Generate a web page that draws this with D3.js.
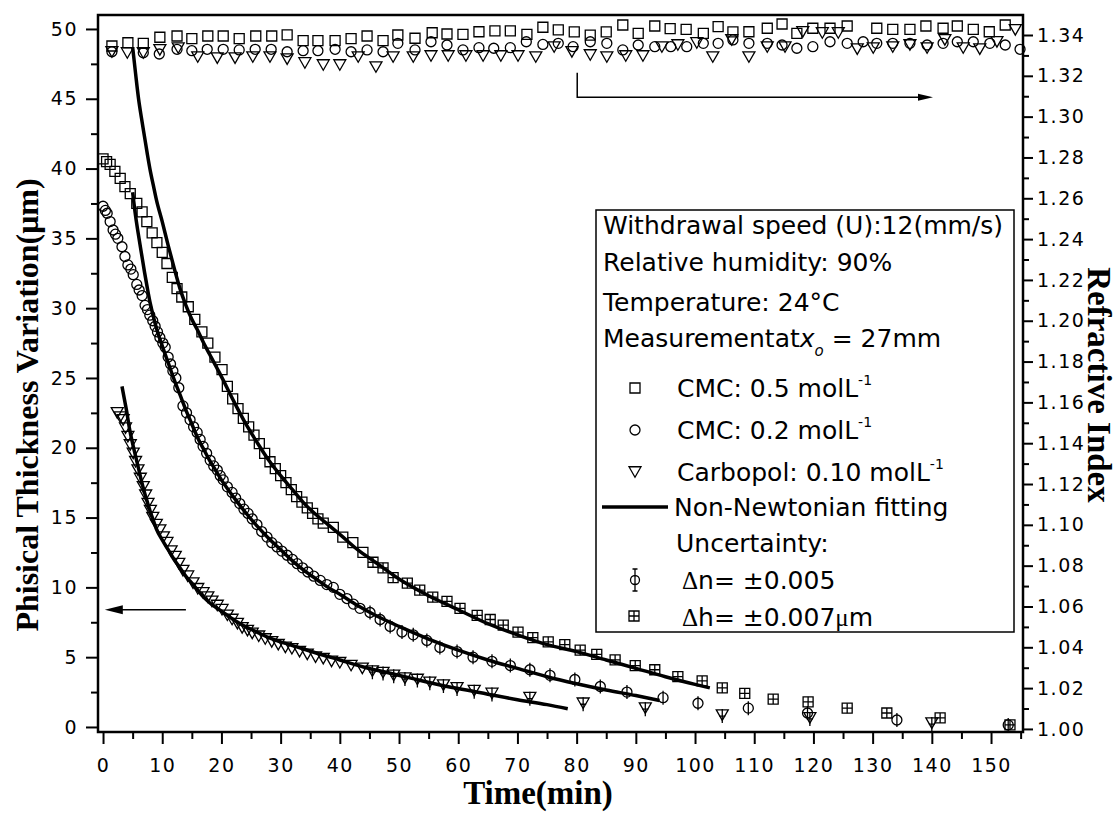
<!DOCTYPE html>
<html lang="en">
<head>
<meta charset="utf-8">
<title>Thickness and refractive index</title>
<script src="https://cdn.jsdelivr.net/npm/d3@7"></script>
<style>
  body { margin: 0; background: #fff; }
  svg { display: block; }
  .tick text { font-family: "DejaVu Sans", sans-serif; font-size: 19px; letter-spacing: 1.5px; fill: #000; }
  .tick line { stroke: #000; stroke-width: 2px; }
  .mark { fill: none; stroke: #000; stroke-width: 1.3px; }
  .fit { fill: none; stroke: #000; stroke-width: 3.5px; stroke-linejoin: round; }
  .legend text { font-family: "DejaVu Sans", sans-serif; font-size: 25px; fill: #000; }
  .title { font-family: "Liberation Serif", "Times New Roman", serif; font-weight: bold; fill: #000; }
</style>
</head>
<body>
<svg id="chart" width="1119" height="813"></svg>
<script>
// ---- thickness (left axis), [time min, thickness um]
var cmc05Thickness = [[0,40.7],[0.6,40.5],[1.2,40.3],[2.0,39.8],[2.9,39.3],[3.7,38.7],[4.6,38.2],[5.7,37.5],[6.6,36.9],[7.4,36.2],
  [8.3,35.4],[9.1,34.7],[10.0,34.0],[10.8,33.2],[11.7,32.2],[12.5,31.4],[13.3,30.8],[14.4,30.1],[15.5,29.2],[16.7,28.3],
  [17.7,27.5],[18.9,26.5],[20.1,25.6],[21.0,24.4],[21.9,23.5],[22.8,22.8],[23.7,22.1],[24.6,21.5],[25.5,20.9],[26.4,20.3],
  [27.3,19.6],[28.2,19.0],[29.1,18.5],[30.0,18.0],[30.9,17.5],[31.8,17.0],[32.7,16.5],[33.6,16.1],[34.5,15.7],[35.4,15.3],
  [36.3,14.9],[37.2,14.6],[38.9,14.3],[40.5,13.6],[42.2,13.2],[43.9,12.5],[45.6,11.8],[47.3,11.4],[49.0,10.7],[51.4,10.3],
  [53.5,9.8],[55.7,9.3],[58.1,9.0],[60.3,8.5],[63.2,8.0],[65.4,7.7],[67.6,7.3],[70.1,6.8],[72.6,6.4],[75.2,6.1],
  [78.0,5.9],[80.6,5.5],[83.4,5.2],[86.5,4.8],[89.9,4.4],[93.2,4.1],[97.1,3.6],[101.2,3.3],[104.6,2.8],[108.4,2.4],
  [113.2,2.0],[119.1,1.8],[125.7,1.35],[132.4,1.0],[141.4,0.65],[153.2,0.15]];

var cmc02Thickness = [[0,37.3],[0.4,37.0],[0.7,36.8],[1.2,36.2],[1.7,35.6],[2.1,35.3],[2.5,35.0],[3.2,34.4],[3.7,33.7],[4.2,33.1],
  [4.7,32.8],[5.1,32.4],[5.7,31.7],[6.1,31.3],[6.6,30.9],[7.1,30.2],[7.5,29.9],[7.9,29.5],[8.4,29.1],[8.8,28.7],
  [9.2,28.3],[9.6,27.9],[10.1,27.5],[10.5,27.2],[11.0,26.5],[11.4,26.0],[11.8,25.5],[12.3,25.0],[12.8,24.3],[13.5,23.0],
  [14.1,22.5],[14.7,22.0],[15.3,21.5],[15.9,21.1],[16.4,20.6],[16.9,20.1],[17.5,19.6],[18.1,19.1],[18.7,18.7],[19.3,18.4],
  [19.8,18.0],[20.3,17.7],[21.0,17.2],[21.8,16.8],[22.4,16.4],[23.1,16.0],[23.8,15.6],[24.5,15.3],[25.2,14.9],[26.0,14.5],
  [26.8,14.0],[27.7,13.6],[28.5,13.2],[29.4,12.9],[30.2,12.6],[31.1,12.3],[32.0,12.0],[32.8,11.7],[33.7,11.4],[34.6,11.1],
  [35.6,10.8],[36.7,10.5],[37.8,10.2],[38.9,10.0],[40.0,9.5],[41.2,9.2],[42.3,8.8],[43.4,8.5],[45.1,8.2],[46.8,7.7],
  [48.5,7.2],[50.5,6.8],[52.4,6.6],[54.7,6.2],[56.9,5.7],[59.8,5.4],[62.5,5.0],[65.7,4.7],[68.8,4.4],[72.1,4.1],
  [75.5,3.7],[79.7,3.4],[84.0,2.9],[88.5,2.5],[94.6,2.1],[100.5,1.7],[109.0,1.35],[119.0,1.0],[134.1,0.5],[152.9,0.15]];

var carbopolThickness = [[2.4,22.5],[2.9,22.2],[3.4,22.0],[3.8,21.4],[4.2,20.8],[4.6,20.2],[5.1,19.6],[5.5,19.0],[5.9,18.4],[6.3,17.8],
  [6.8,17.2],[7.2,16.6],[7.6,16.0],[8.0,15.5],[8.4,15.0],[9.0,14.5],[9.6,14.1],[10.2,13.6],[10.8,13.2],[11.5,12.6],
  [12.2,12.2],[12.8,11.7],[13.5,11.2],[14.3,10.8],[15.2,10.3],[16.0,9.9],[16.9,9.6],[17.7,9.3],[18.4,9.0],[19.3,8.7],
  [20.1,8.4],[21.0,8.0],[21.8,7.7],[22.7,7.4],[23.5,7.1],[24.4,6.9],[25.2,6.7],[26.3,6.5],[27.4,6.3],[28.5,6.1],
  [29.6,5.9],[30.8,5.7],[31.9,5.6],[33.2,5.4],[34.5,5.2],[35.9,5.0],[37.2,4.9],[38.6,4.7],[40.0,4.6],[41.9,4.4],
  [43.8,4.2],[45.5,4.0],[47.3,3.9],[49.1,3.7],[51.0,3.5],[53.1,3.4],[55.2,3.2],[57.5,3.0],[59.8,2.8],[62.7,2.6],
  [65.7,2.4],[72.1,2.1],[81.1,1.7],[91.6,1.35],[104.6,0.85],[119.4,0.65],[140.0,0.28]];

// ---- non-newtonian fits (left axis)
var cmc05Fit = [[5.0,48.7],[5.5,46.8],[6.0,45.0],[6.5,43.6],[7.0,42.3],[7.5,41.0],[8.0,39.8],[8.5,38.8],[9.0,37.8],[10.0,36.2],
  [11.0,34.5],[12.0,32.9],[13.0,31.4],[14.0,30.2],[15.0,29.2],[16.0,28.4],[17.0,27.5],[18.0,26.7],[19.0,25.9],[20.0,25.1],
  [22.0,23.4],[24.0,21.8],[26.0,20.4],[28.0,19.1],[30.0,18.0],[32.0,17.0],[34.0,16.0],[36.0,15.2],[38.0,14.5],[40.0,13.8],
  [43.0,12.7],[46.0,11.8],[50.0,10.6],[55.0,9.4],[60.0,8.4],[65.0,7.4],[70.0,6.6],[75.0,5.9],[80.0,5.4],[85.0,4.8],
  [90.0,4.2],[95.0,3.6],[100.0,3.05],[102.5,2.8]];
var cmc02Fit = [[5.0,38.3],[5.5,36.6],[6.0,35.2],[6.5,33.9],[7.0,32.6],[7.5,31.4],[8.0,30.3],[8.5,29.4],[9.0,28.6],[10.0,27.3],
  [11.0,26.1],[12.0,24.9],[13.0,23.8],[14.0,22.7],[15.0,21.7],[16.0,20.7],[17.0,19.9],[18.0,19.1],[19.0,18.4],[20.0,17.7],
  [22.0,16.5],[24.0,15.4],[26.0,14.4],[28.0,13.5],[30.0,12.7],[32.0,11.9],[34.0,11.2],[36.0,10.6],[38.0,10.0],[40.0,9.5],
  [43.0,8.7],[46.0,8.0],[50.0,7.2],[55.0,6.3],[60.0,5.5],[65.0,4.8],[70.0,4.2],[75.0,3.6],[80.0,3.1],[85.0,2.65],
  [90.0,2.25],[94.0,1.9]];
var carbopolFit = [[3.2,24.4],[3.6,23.5],[4.0,22.6],[4.5,21.3],[5.0,20.3],[5.5,19.4],[6.0,18.5],[6.5,17.6],[7.0,16.8],[7.5,16.1],
  [8.0,15.4],[8.5,14.8],[9.0,14.2],[10.0,13.4],[11.0,12.7],[12.0,12.0],[13.0,11.4],[14.0,10.8],[15.0,10.3],[16.0,9.8],
  [17.0,9.3],[18.0,8.9],[20.0,8.3],[22.0,7.7],[24.0,7.2],[26.0,6.8],[28.0,6.4],[30.0,6.1],[33.0,5.7],[36.0,5.3],
  [40.0,4.8],[44.0,4.3],[48.0,3.9],[52.0,3.5],[56.0,3.1],[60.0,2.75],[65.0,2.35],[70.0,1.95],[75.0,1.6],[78.5,1.3]];

// ---- refractive index (right axis), [time min, n]
var cmc05Index = [[1.5,1.3346],[4.2,1.3362],[6.8,1.3359],[9.6,1.3389],[12.5,1.3395],[15.0,1.3382],[17.7,1.3395],[20.3,1.3395],
  [23.0,1.3382],[25.8,1.3395],[28.5,1.3395],[31.1,1.3401],[33.8,1.3372],[36.3,1.3372],[39.2,1.3372],[41.9,1.3382],
  [44.6,1.3395],[47.3,1.3372],[49.8,1.3400],[52.7,1.3384],[55.6,1.3411],[58.1,1.3405],[60.8,1.3403],[63.5,1.3416],
  [66.2,1.3420],[68.8,1.3420],[71.6,1.3403],[74.3,1.3438],[76.9,1.3425],[79.6,1.3415],[82.3,1.3399],[85.0,1.3415],
  [87.8,1.3449],[90.4,1.3408],[93.2,1.3444],[95.8,1.3431],[98.5,1.3428],[101.4,1.3408],[103.9,1.3441],[106.4,1.3415],
  [109.1,1.3416],[112.2,1.3433],[114.7,1.3454],[117.2,1.3408],[119.9,1.3433],[122.8,1.3433],[125.7,1.3444],[130.7,1.3433],
  [133.4,1.3428],[136.3,1.3428],[139.0,1.3444],[141.9,1.3433],[144.3,1.3444],[147.0,1.3428],[149.7,1.3416],[152.4,1.3449]];
var cmc02Index = [[1.5,1.3318],[6.8,1.3313],[9.5,1.3307],[12.5,1.3330],[15.0,1.3323],[17.6,1.3330],[20.3,1.3330],[23.0,1.3327],
  [25.7,1.3330],[28.4,1.3330],[31.1,1.3318],[33.8,1.3323],[36.3,1.3323],[39.2,1.3330],[41.9,1.3318],[44.6,1.3327],
  [47.3,1.3318],[49.8,1.3359],[52.7,1.3327],[55.4,1.3367],[58.1,1.3351],[60.8,1.3327],[63.5,1.3338],[66.0,1.3335],
  [68.8,1.3338],[71.5,1.3367],[74.3,1.3354],[76.9,1.3359],[79.4,1.3343],[82.3,1.3367],[85.1,1.3359],[87.8,1.3327],
  [90.4,1.3351],[93.2,1.3343],[95.9,1.3343],[98.6,1.3343],[101.4,1.3359],[103.9,1.3359],[106.4,1.3376],[109.1,1.3359],
  [112.2,1.3359],[114.7,1.3351],[117.2,1.3335],[119.9,1.3343],[122.8,1.3367],[125.7,1.3359],[128.4,1.3367],[130.7,1.3359],
  [133.4,1.3359],[136.3,1.3359],[139.2,1.3351],[141.9,1.3359],[144.3,1.3367],[147.0,1.3367],[149.8,1.3359],[152.4,1.3351],
  [154.9,1.3330]];
var carbopolIndex = [[1.5,1.3317],[4.1,1.3312],[6.8,1.3312],[9.6,1.3327],[12.7,1.3336],[16.0,1.3292],[19.3,1.3287],[22.3,1.3287],
  [25.3,1.3292],[28.2,1.3292],[31.1,1.3282],[34.1,1.3263],[37.2,1.3253],[40.0,1.3253],[43.1,1.3292],[46.1,1.3243],
  [49.0,1.3292],[52.4,1.3292],[55.4,1.3297],[58.3,1.3297],[61.3,1.3297],[64.2,1.3297],[67.2,1.3297],[70.1,1.3297],
  [73.1,1.3292],[76.2,1.3341],[79.2,1.3317],[82.3,1.3302],[85.1,1.3292],[88.3,1.3297],[91.2,1.3297],[94.4,1.3341],
  [97.1,1.3351],[100.3,1.3361],[103.0,1.3292],[106.2,1.3376],[109.1,1.3292],[112.2,1.3341],[115.2,1.3341],[118.2,1.3415],
  [121.5,1.3410],[124.2,1.3410],[127.4,1.3331],[130.1,1.3336],[133.4,1.3341],[136.3,1.3351],[139.2,1.3336],[142.2,1.3376],
  [145.3,1.3336],[148.1,1.3331],[151.0,1.3366],[154.1,1.3425]];

// ---- ticks
var leftMajor = [0, 5, 10, 15, 20, 25, 30, 35, 40, 45, 50];
var leftMinor = [2.5, 7.5, 12.5, 17.5, 22.5, 27.5, 32.5, 37.5, 42.5, 47.5];
var rightMajor = [1.00, 1.02, 1.04, 1.06, 1.08, 1.10, 1.12, 1.14, 1.16, 1.18, 1.20, 1.22, 1.24, 1.26, 1.28, 1.30, 1.32, 1.34];
var rightMinor = [1.01, 1.03, 1.05, 1.07, 1.09, 1.11, 1.13, 1.15, 1.17, 1.19, 1.21, 1.23, 1.25, 1.27, 1.29, 1.31, 1.33];
var bottomMajor = [0, 10, 20, 30, 40, 50, 60, 70, 80, 90, 100, 110, 120, 130, 140, 150];
var bottomMinor = [5, 15, 25, 35, 45, 55, 65, 75, 85, 95, 105, 115, 125, 135, 145, 155];

// annotation arrows, in data units
var leftArrow = [[14.0, 8.4], [0.3, 8.4]];         // left axis
var rightArrow = [[80.1, 1.3215], [80.1, 1.3095], [140.2, 1.3095]]; // right axis

var svg = d3.select("#chart");

var x = d3.scaleLinear().domain([-0.85, 155.4]).range([98, 1023]);
var yL = d3.scaleLinear().domain([-0.36, 51.0]).range([732, 15]);
var yR = d3.scaleLinear().domain([0.9985, 1.3498]).range([732, 15]);

function noDomain(g) { g.select(".domain").remove(); }

// axes
svg.append("g").attr("transform", "translate(98,0)")
  .call(d3.axisLeft(yL).tickValues(leftMajor).tickSize(12).tickPadding(8).tickFormat(d3.format("d"))).call(noDomain);
svg.append("g").attr("transform", "translate(98,0)")
  .call(d3.axisLeft(yL).tickValues(leftMinor).tickSize(7).tickFormat("")).call(noDomain);
svg.append("g").attr("transform", "translate(1023,0)")
  .call(d3.axisRight(yR).tickValues(rightMajor).tickSize(10).tickPadding(4).tickFormat(d3.format(".2f"))).call(noDomain);
svg.append("g").attr("transform", "translate(1023,0)")
  .call(d3.axisRight(yR).tickValues(rightMinor).tickSize(6).tickFormat("")).call(noDomain);
svg.append("g").attr("transform", "translate(0,732)")
  .call(d3.axisBottom(x).tickValues(bottomMajor).tickSize(12).tickPadding(15).tickFormat(d3.format("d"))).call(noDomain);
svg.append("g").attr("transform", "translate(0,732)")
  .call(d3.axisBottom(x).tickValues(bottomMinor).tickSize(7).tickFormat("")).call(noDomain);

// frame
svg.append("rect")
  .attr("x", x.range()[0]).attr("y", yL.range()[1])
  .attr("width", x.range()[1] - x.range()[0]).attr("height", yL.range()[0] - yL.range()[1])
  .attr("fill", "none").attr("stroke", "#000").attr("stroke-width", 2.5);

// marker shapes
function squarePath(s) { return "M" + (-s/2) + "," + (-s/2) + "h" + s + "v" + s + "h" + (-s) + "Z"; }
function circlePath(r) { return "M" + (-r) + ",0a" + r + "," + r + " 0 1,0 " + (2*r) + ",0a" + r + "," + r + " 0 1,0 " + (-2*r) + ",0Z"; }
function trianglePath(w, h) { return "M" + (-w/2) + "," + (-h/2) + "h" + w + "L0," + (h/2) + "Z"; }

var shapes = {
  square: squarePath(10),
  circle: circlePath(5),
  triangle: trianglePath(12, 10.5)
};
// error bars drawn inside the sparse markers
var errs = {
  square: "M0,-5V5M-5,0H5",
  circle: "M0,-7V7",
  triangle: "M0,-6V8M-3,1H3"
};

function drawSeries(data, yScale, shape, withErr) {
  var g = svg.append("g");
  g.selectAll("path.mark").data(data).join("path")
    .attr("class", "mark")
    .attr("transform", function(d) { return "translate(" + x(d[0]) + "," + yScale(d[1]) + ")"; })
    .attr("d", shapes[shape]);
  if (withErr) {
    g.selectAll("path.err").data(data.filter(function(d) { return d[0] >= 45; })).join("path")
      .attr("class", "mark")
      .attr("transform", function(d) { return "translate(" + x(d[0]) + "," + yScale(d[1]) + ")"; })
      .attr("d", errs[shape]);
  }
}

drawSeries(cmc05Index, yR, "square", false);
drawSeries(cmc02Index, yR, "circle", false);
drawSeries(carbopolIndex, yR, "triangle", false);
drawSeries(cmc05Thickness, yL, "square", true);
drawSeries(cmc02Thickness, yL, "circle", true);
drawSeries(carbopolThickness, yL, "triangle", true);

var fitLine = d3.line().x(function(d) { return x(d[0]); }).y(function(d) { return yL(d[1]); }).curve(d3.curveMonotoneX);
[cmc05Fit, cmc02Fit, carbopolFit].forEach(function(f) {
  svg.append("path").attr("class", "fit").attr("d", fitLine(f));
});

// arrows
function arrowHead(tip, dir, len, half) {
  var bx = tip[0] - dir[0] * len, by = tip[1] - dir[1] * len;
  var nx = -dir[1] * half, ny = dir[0] * half;
  return "M" + tip[0] + "," + tip[1] + "L" + (bx + nx) + "," + (by + ny) + "L" + (bx - nx) + "," + (by - ny) + "Z";
}
var la = leftArrow.map(function(p) { return [x(p[0]), yL(p[1])]; });
svg.append("path").attr("d", d3.line()([la[0], [la[1][0] + 14, la[1][1]]]))
  .attr("stroke", "#000").attr("stroke-width", 1.5).attr("fill", "none");
svg.append("path").attr("d", arrowHead(la[1], [-1, 0], 18, 4.5)).attr("fill", "#000");

var ra = rightArrow.map(function(p) { return [x(p[0]), yR(p[1])]; });
svg.append("path").attr("d", d3.line()([ra[0], ra[1], [ra[2][0] - 12, ra[2][1]]]))
  .attr("stroke", "#000").attr("stroke-width", 1.5).attr("fill", "none");
svg.append("path").attr("d", arrowHead(ra[2], [1, 0], 15, 3.5)).attr("fill", "#000");

// titles
svg.append("text").attr("class", "title")
  .attr("transform", "translate(538,804)").attr("text-anchor", "middle")
  .style("font-size", "33px").text("Time(min)");
svg.append("text").attr("class", "title")
  .attr("transform", "translate(38,405) rotate(-90)").attr("text-anchor", "middle")
  .style("font-size", "32px").text("Phisical Thickness Variation(\u03bcm)");
svg.append("text").attr("class", "title")
  .attr("transform", "translate(1088,385) rotate(90)").attr("text-anchor", "middle")
  .style("font-size", "33px").text("Refractive Index");

// legend box
var lg = svg.append("g").attr("class", "legend");
lg.append("rect").attr("x", 596).attr("y", 210).attr("width", 418).attr("height", 422)
  .attr("fill", "#fff").attr("stroke", "#000").attr("stroke-width", 1.5);

lg.append("text").attr("x", 603).attr("y", 234).text("Withdrawal speed (U):12(mm/s)");
lg.append("text").attr("x", 603).attr("y", 271).text("Relative humidity: 90%");
lg.append("text").attr("x", 603).attr("y", 311).text("Temperature: 24\u00b0C");
var m = lg.append("text").attr("x", 603).attr("y", 347);
m.append("tspan").text("Measurementat");
m.append("tspan").style("font-style", "italic").text("x");
m.append("tspan").style("font-style", "italic").style("font-size", "15px").attr("dy", 9).text("o");
m.append("tspan").attr("dy", -9).text(" = 27mm");

var items = [
  {shape: "square", label: "CMC: 0.5 molL", y: 397},
  {shape: "circle", label: "CMC: 0.2 molL", y: 439},
  {shape: "triangle", label: "Carbopol: 0.10 molL", y: 481}
];
items.forEach(function(it) {
  lg.append("path").attr("class", "mark")
    .attr("transform", "translate(635," + (it.y - 9) + ")").attr("d", shapes[it.shape]);
  var t = lg.append("text").attr("x", 677).attr("y", it.y);
  t.append("tspan").text(it.label);
  t.append("tspan").style("font-size", "14px").attr("dy", -12).text("-1");
});
lg.append("path").attr("d", "M602,507H668").attr("stroke", "#000").attr("stroke-width", 3.5);
lg.append("text").attr("x", 674).attr("y", 516).text("Non-Newtonian fitting");
lg.append("text").attr("x", 676).attr("y", 552).text("Uncertainty:");

lg.append("path").attr("class", "mark").attr("transform", "translate(635,580)")
  .attr("d", circlePath(4.5) + "M0,-11V11M-2.5,-11H2.5M-2.5,11H2.5");
lg.append("path").attr("class", "mark").attr("transform", "translate(634,616)")
  .attr("d", squarePath(10) + "M0,-5V5M-5,0H5");

var dn = lg.append("text").attr("x", 682).attr("y", 589);
dn.append("tspan").style("font-family", "'Liberation Serif', serif").text("\u0394");
dn.append("tspan").text("n= \u00b10.005");
var dh = lg.append("text").attr("x", 682).attr("y", 626);
dh.append("tspan").style("font-family", "'Liberation Serif', serif").text("\u0394");
dh.append("tspan").text("h= \u00b10.007");
dh.append("tspan").style("font-family", "'Liberation Serif', serif").text("\u03bc");
dh.append("tspan").text("m");
</script>
</body>
</html>
